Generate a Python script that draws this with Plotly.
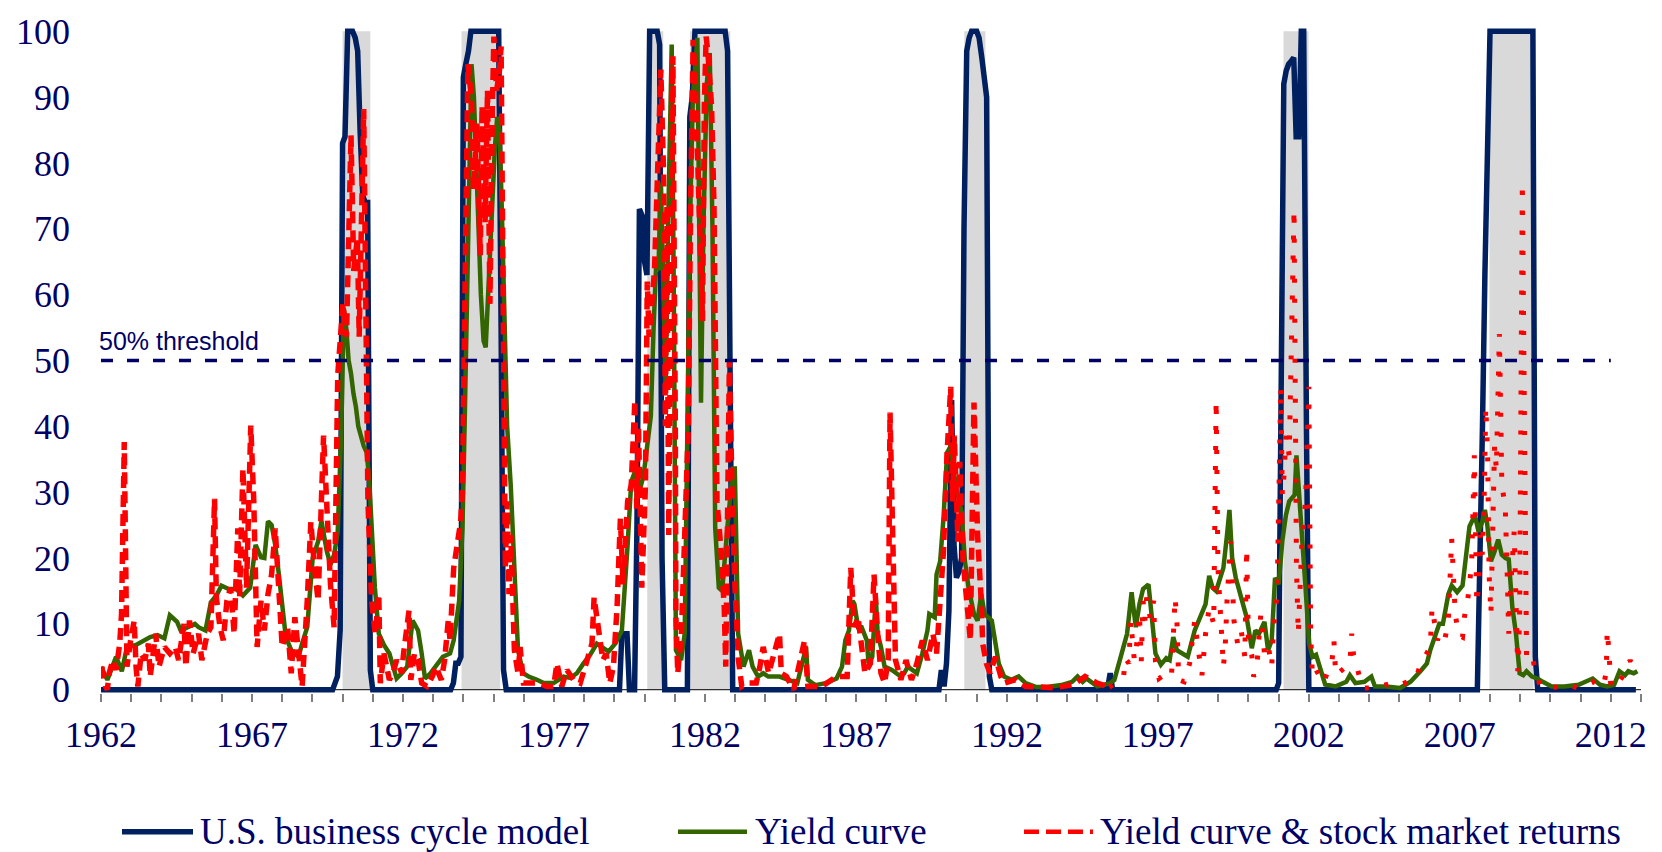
import plotly.graph_objects as go

# ---------------- data ----------------
SERIES_NAMES = ["U.S. business cycle model", "Yield curve", "Yield curve & stock market returns"]
X_LABEL_YEARS = [1962, 1967, 1972, 1977, 1982, 1987, 1992, 1997, 2002, 2007, 2012]
Y_TICKS = [0, 10, 20, 30, 40, 50, 60, 70, 80, 90, 100]
THRESHOLD_VALUE = 50
THRESHOLD_SPAN = [1962.0, 2012.0]
THRESHOLD_LABEL = "50% threshold"

RECESSION_START = [1970.0, 1973.94, 1980.09, 1981.51, 1990.59, 2001.16, 2007.98]
RECESSION_END = [1970.92, 1975.22, 1980.62, 1982.84, 1991.29, 2001.99, 2009.44]

BUSINESS_CYCLE = [
    (1962.0, 0), (1969.67, 0), (1969.75, 1), (1969.83, 2), (1969.92, 9), (1970.0, 83), (1970.08, 84),
    (1970.17, 100), (1970.25, 100), (1970.33, 100), (1970.42, 99), (1970.5, 97), (1970.58, 85),
    (1970.67, 75), (1970.75, 74), (1970.83, 74), (1970.92, 3), (1971.0, 0),
    (1973.58, 0), (1973.67, 1), (1973.75, 4), (1973.83, 4), (1973.92, 5), (1974.0, 93), (1974.08, 95),
    (1974.17, 97), (1974.25, 100), (1975.17, 100), (1975.25, 55), (1975.33, 3), (1975.42, 0),
    (1979.17, 0), (1979.25, 8.5), (1979.42, 8.5), (1979.5, 0), (1979.67, 0), (1979.75, 25),
    (1979.83, 73), (1979.92, 72), (1980.0, 65), (1980.08, 63), (1980.17, 100), (1980.42, 100),
    (1980.5, 98), (1980.58, 20), (1980.67, 0),
    (1981.42, 0), (1981.5, 87), (1981.58, 90), (1981.67, 100), (1982.67, 100), (1982.75, 97),
    (1982.83, 50), (1982.92, 0),
    (1989.75, 0), (1989.83, 3), (1989.92, 0.5), (1990.0, 4), (1990.08, 12), (1990.17, 44),
    (1990.25, 22), (1990.33, 17), (1990.42, 18), (1990.5, 20), (1990.58, 70), (1990.67, 97),
    (1990.75, 99), (1990.83, 100), (1991.0, 100), (1991.08, 99), (1991.17, 96), (1991.25, 93),
    (1991.33, 90), (1991.42, 2), (1991.5, 0),
    (1995.33, 0), (1995.42, 2.5), (1995.5, 0),
    (2000.92, 0), (2001.0, 1), (2001.08, 40), (2001.17, 92), (2001.25, 94), (2001.33, 95),
    (2001.42, 95.5), (2001.5, 96), (2001.58, 84), (2001.67, 84), (2001.75, 100), (2001.83, 100),
    (2001.92, 40), (2002.0, 0),
    (2007.58, 0), (2007.67, 18), (2007.75, 40), (2007.83, 63), (2007.92, 87), (2008.0, 100),
    (2009.42, 100), (2009.5, 5), (2009.58, 0),
    (2012.83, 0),
]

YIELD_CURVE = [
    (1962.0, 3.5), (1962.21, 1.5), (1962.5, 5), (1962.69, 2.8), (1962.86, 6.5), (1963.16, 6.8),
    (1963.63, 8.0), (1963.87, 8.3), (1964.1, 7.8), (1964.28, 11.3), (1964.52, 10.3), (1964.64, 9.0),
    (1965.11, 10.0), (1965.23, 9.5), (1965.46, 9.0), (1965.64, 13.3), (1965.82, 14.3), (1965.99, 15.8),
    (1966.23, 15.3), (1966.47, 15.3), (1966.7, 14.3), (1966.94, 15.5), (1967.12, 22), (1967.3, 20.1),
    (1967.41, 20), (1967.53, 25.6), (1967.65, 25), (1967.77, 22), (1967.89, 17.5), (1968.0, 12.5),
    (1968.12, 8), (1968.3, 6), (1968.54, 5), (1968.66, 7), (1968.83, 9.5), (1969.01, 20),
    (1969.19, 22.5), (1969.3, 25.6), (1969.48, 21), (1969.6, 19), (1969.72, 20.5), (1969.84, 24),
    (1969.96, 39.6), (1970.04, 58), (1970.12, 55), (1970.2, 50), (1970.28, 48), (1970.36, 45),
    (1970.44, 43), (1970.52, 40), (1970.6, 38.6), (1970.7, 37), (1970.8, 36), (1970.88, 32),
    (1970.95, 26), (1971.07, 15.5), (1971.2, 8.5), (1971.37, 6.8), (1971.55, 5.5), (1971.67, 3.5),
    (1971.79, 1.7), (1971.96, 2.5), (1972.14, 3.5), (1972.32, 10.5), (1972.5, 9), (1972.62, 5.5),
    (1972.73, 1.7), (1972.91, 2.5), (1973.09, 3.5), (1973.32, 5), (1973.56, 5.5), (1973.68, 7.5),
    (1973.86, 13.5), (1973.97, 24.5), (1974.05, 42), (1974.12, 62), (1974.2, 85), (1974.27, 95),
    (1974.35, 90), (1974.42, 80), (1974.5, 70), (1974.58, 60), (1974.67, 53), (1974.74, 52),
    (1974.8, 58), (1974.88, 66), (1974.96, 75), (1975.04, 82), (1975.12, 87), (1975.2, 85),
    (1975.28, 72), (1975.36, 55), (1975.45, 40), (1975.57, 31), (1975.69, 18.5), (1975.81, 6),
    (1975.98, 2.5), (1976.16, 2), (1976.44, 1.5), (1976.66, 1.0), (1976.99, 1.0), (1977.32, 2.0),
    (1977.54, 1.8), (1977.76, 2.5), (1977.98, 4.0), (1978.2, 5.3), (1978.42, 7.0), (1978.59, 6.5),
    (1978.81, 5.8), (1979.03, 7.0), (1979.25, 9), (1979.44, 22), (1979.56, 31.6), (1979.68, 33.1),
    (1979.86, 30.6), (1979.97, 32.6), (1980.09, 36.6), (1980.21, 41.6), (1980.3, 55), (1980.38, 64),
    (1980.46, 63.7), (1980.54, 77), (1980.62, 62), (1980.7, 46), (1980.8, 75), (1980.9, 98),
    (1980.97, 60), (1981.04, 6), (1981.21, 4.5), (1981.33, 8.5), (1981.42, 40), (1981.5, 70),
    (1981.6, 90), (1981.75, 99), (1981.87, 43.6), (1981.95, 70), (1982.06, 92), (1982.16, 96.7),
    (1982.25, 70), (1982.34, 24.6), (1982.46, 15.5), (1982.57, 15), (1982.75, 25), (1982.93, 33.6),
    (1982.99, 33.6), (1983.1, 8.5), (1983.28, 3.5), (1983.46, 6), (1983.58, 3.5), (1983.76, 2),
    (1983.93, 2.5), (1984.1, 2), (1984.47, 2), (1984.82, 1.5), (1985.06, 1), (1985.3, 5.5),
    (1985.35, 6.5), (1985.41, 1.5), (1985.65, 0.7), (1986.0, 1), (1986.36, 1.7), (1986.54, 3.5),
    (1986.65, 7.5), (1986.77, 9), (1986.89, 13.5), (1986.95, 13), (1987.07, 9.5), (1987.19, 9.5),
    (1987.36, 7.5), (1987.42, 4), (1987.54, 5), (1987.66, 14), (1987.72, 8.5), (1987.83, 6.5),
    (1987.95, 3.5), (1988.19, 3), (1988.43, 2.2), (1988.6, 2.5), (1988.72, 3.5), (1989.02, 2.5),
    (1989.2, 5.5), (1989.37, 9), (1989.43, 11.5), (1989.61, 11), (1989.67, 17.5), (1989.79, 19.5),
    (1989.9, 26), (1990.02, 36), (1990.14, 37), (1990.2, 34.6), (1990.32, 30.6), (1990.5, 27),
    (1990.61, 19.5), (1990.73, 15.5), (1990.91, 11.5), (1991.03, 10.5), (1991.15, 14.5),
    (1991.26, 11.5), (1991.5, 10.5), (1991.73, 4), (1991.91, 2), (1992.15, 1.5), (1992.39, 2),
    (1992.62, 1), (1992.98, 0.4), (1993.33, 0.4), (1993.8, 0.7), (1994.16, 1.2), (1994.34, 2),
    (1994.51, 1.2), (1994.63, 1.7), (1994.99, 0.5), (1995.42, 1), (1995.56, 1.5), (1995.8, 5.5),
    (1995.98, 8.5), (1996.13, 14.8), (1996.21, 11.5), (1996.27, 9.5), (1996.39, 13), (1996.51, 15.3),
    (1996.69, 16), (1996.8, 11.5), (1996.92, 5.5), (1997.1, 3.8), (1997.28, 4.8), (1997.39, 4.5),
    (1997.51, 8), (1997.63, 6), (1997.81, 5.5), (1997.99, 5), (1998.22, 9), (1998.4, 11),
    (1998.58, 13), (1998.7, 17.3), (1998.81, 15.5), (1998.93, 15), (1999.05, 16.5), (1999.17, 18.5),
    (1999.29, 23.5), (1999.37, 27.3), (1999.46, 20), (1999.58, 17), (1999.76, 14), (1999.94, 11),
    (2000.11, 6.3), (2000.23, 9), (2000.35, 8.5), (2000.53, 10.3), (2000.65, 6), (2000.77, 7.5),
    (2000.88, 17), (2001.0, 16), (2001.12, 22.5), (2001.24, 26.5), (2001.35, 28.6), (2001.53, 29.6),
    (2001.59, 35.6), (2001.65, 31.1), (2001.77, 22.5), (2001.89, 15.5), (2002.01, 7), (2002.12, 5),
    (2002.24, 5.3), (2002.36, 3.5), (2002.54, 0.8), (2002.89, 0.5), (2003.24, 1.2), (2003.36, 2.2),
    (2003.54, 1), (2003.84, 1.2), (2004.07, 2), (2004.19, 0.5), (2004.55, 0.5), (2005.02, 0.25),
    (2005.37, 1.2), (2005.73, 3), (2005.91, 4), (2006.02, 6), (2006.14, 7.5), (2006.32, 10),
    (2006.44, 10), (2006.62, 14.5), (2006.73, 15.8), (2006.91, 14.8), (2007.09, 15.8), (2007.21, 20.5),
    (2007.32, 24.8), (2007.5, 26.5), (2007.62, 24), (2007.74, 25.5), (2007.83, 27.3), (2007.91, 25),
    (2008.03, 19.5), (2008.15, 21), (2008.27, 22.8), (2008.39, 20.5), (2008.51, 20), (2008.62, 19.8),
    (2008.74, 12.5), (2008.86, 8.5), (2008.98, 2.5), (2009.1, 2.2), (2009.21, 2.8), (2009.39, 2),
    (2009.57, 1.7), (2009.75, 1.2), (2010.04, 0.5), (2010.46, 0.5), (2010.93, 0.75), (2011.4, 1.7),
    (2011.64, 0.75), (2011.88, 0.5), (2012.11, 0.75), (2012.29, 2.8), (2012.47, 2.2), (2012.58, 2.8),
    (2012.76, 2.5), (2012.88, 2.8),
]

YIELD_AND_STOCKS = [
    (1962.03, 3.5), (1962.09, 1), (1962.21, 0), (1962.27, 2.5), (1962.39, 4.5), (1962.5, 3),
    (1962.62, 7), (1962.68, 11.5), (1962.77, 37.6), (1962.82, 18.5), (1962.86, 3.5), (1962.98, 7.5),
    (1963.1, 10.5), (1963.16, 3.5), (1963.22, 0.5), (1963.33, 5.5), (1963.45, 4.5), (1963.57, 7),
    (1963.63, 2), (1963.81, 8.5), (1963.92, 3.5), (1964.1, 6.5), (1964.28, 5.5), (1964.46, 6.5),
    (1964.57, 4.5), (1964.75, 10), (1964.81, 3.5), (1964.93, 10.5), (1965.05, 5.5), (1965.23, 8.5),
    (1965.34, 4.5), (1965.52, 8.5), (1965.64, 9.5), (1965.76, 29), (1965.82, 14), (1965.94, 9.5),
    (1966.05, 7.5), (1966.17, 13.5), (1966.29, 15.5), (1966.41, 8.5), (1966.53, 24.5), (1966.59, 14),
    (1966.7, 33.6), (1966.82, 15.5), (1966.96, 40.1), (1967.06, 28.6), (1967.17, 6.5), (1967.3, 13.5),
    (1967.41, 9), (1967.53, 14.5), (1967.65, 17.5), (1967.77, 24.5), (1967.89, 15.5), (1968.0, 6.5),
    (1968.18, 9.5), (1968.3, 2.5), (1968.42, 11), (1968.54, 5), (1968.66, 0.5), (1968.83, 13.5),
    (1968.95, 25.5), (1969.07, 18.5), (1969.19, 13.5), (1969.37, 38.6), (1969.48, 25.5), (1969.6, 16),
    (1969.72, 9.5), (1969.78, 38.6), (1969.84, 47.8), (1970.01, 58.6), (1970.13, 53.6), (1970.28, 84.2),
    (1970.37, 63.6), (1970.49, 68.6), (1970.55, 53.6), (1970.7, 88.2), (1970.78, 43.6), (1970.84, 28.6),
    (1970.96, 13.5), (1971.08, 8.5), (1971.2, 14.5), (1971.25, 1), (1971.37, 5.5), (1971.55, 1.5),
    (1971.67, 2.5), (1971.79, 4.5), (1971.96, 2.5), (1972.02, 5.5), (1972.2, 12), (1972.26, 1.5),
    (1972.38, 5.5), (1972.5, 4.5), (1972.62, 1), (1972.79, 0.5), (1972.97, 2), (1973.09, 3.5),
    (1973.27, 1.5), (1973.38, 4.5), (1973.5, 10.5), (1973.56, 7.5), (1973.68, 18.5), (1973.8, 22.5),
    (1973.91, 25.5), (1973.97, 30.6), (1974.05, 60), (1974.15, 95), (1974.27, 89.7), (1974.33, 76),
    (1974.45, 86), (1974.56, 66), (1974.62, 88.7), (1974.72, 71), (1974.8, 91), (1974.88, 58.6),
    (1974.96, 87.7), (1975.01, 99.2), (1975.1, 91), (1975.19, 93.7), (1975.25, 97.7), (1975.34, 43.6),
    (1975.39, 18.5), (1975.45, 28.6), (1975.51, 14.5), (1975.57, 23.5), (1975.69, 6), (1975.81, 2.5),
    (1975.88, 6.5), (1975.99, 1), (1976.16, 1), (1976.51, 1), (1976.77, 0.5), (1976.99, 0.5),
    (1977.1, 4), (1977.26, 0.5), (1977.43, 3), (1977.65, 1.5), (1977.87, 1), (1978.09, 4.5),
    (1978.26, 7), (1978.33, 14), (1978.5, 7.5), (1978.62, 4.5), (1978.73, 5.5), (1978.85, 1),
    (1978.97, 3.5), (1979.09, 12.5), (1979.2, 26), (1979.29, 16), (1979.44, 28.6), (1979.56, 31.1),
    (1979.68, 44), (1979.74, 27.5), (1979.8, 40), (1979.91, 15.5), (1980.03, 31), (1980.09, 62),
    (1980.15, 53.6), (1980.33, 63.7), (1980.54, 94.2), (1980.63, 78.7), (1980.69, 40), (1980.74, 73.6),
    (1980.8, 23.5), (1980.87, 60), (1980.94, 96.2), (1981.02, 40), (1981.04, 11), (1981.1, 2.5),
    (1981.22, 8.5), (1981.33, 23.5), (1981.45, 40), (1981.53, 75), (1981.61, 98.7), (1981.69, 91),
    (1981.81, 68.6), (1981.92, 56), (1981.98, 88.7), (1982.04, 99.2), (1982.1, 96.7), (1982.22, 88.7),
    (1982.3, 73.6), (1982.36, 40), (1982.4, 28.6), (1982.52, 22), (1982.64, 12.5), (1982.69, 3.5),
    (1982.75, 31), (1982.81, 50), (1982.9, 30), (1982.99, 16), (1983.11, 4.5), (1983.22, 0.5),
    (1983.4, 1), (1983.7, 1), (1983.82, 3.5), (1983.93, 6.5), (1984.11, 2.5), (1984.47, 8.5),
    (1984.53, 2.5), (1984.7, 2), (1984.94, 0), (1985.3, 7.5), (1985.41, 0.5), (1985.88, 0.5),
    (1986.36, 2), (1986.71, 2), (1986.83, 18.5), (1986.89, 12.5), (1986.95, 9.5), (1987.07, 11),
    (1987.19, 6), (1987.3, 2.5), (1987.48, 4), (1987.6, 17.5), (1987.72, 8.5), (1987.83, 2.5),
    (1987.95, 1), (1988.07, 4.5), (1988.13, 42.1), (1988.25, 11), (1988.31, 4.5), (1988.49, 1.5),
    (1988.66, 4.5), (1988.84, 1.5), (1989.02, 4), (1989.2, 7.5), (1989.37, 4.5), (1989.55, 8.5),
    (1989.67, 5.5), (1989.79, 13.5), (1989.9, 21), (1990.02, 36), (1990.14, 46), (1990.2, 28.6),
    (1990.26, 38.6), (1990.38, 22.5), (1990.44, 34.6), (1990.55, 19.5), (1990.67, 13.5),
    (1990.79, 7.5), (1990.91, 43.6), (1991.03, 23.5), (1991.15, 13.5), (1991.2, 7), (1991.32, 4),
    (1991.44, 2.5), (1991.62, 5), (1991.8, 2), (1991.91, 1), (1992.27, 1.5), (1992.62, 0.5),
    (1992.98, 0.5), (1993.57, 0.3), (1994.2, 0.75), (1994.59, 2), (1994.99, 1), (1995.39, 0.4),
    (1995.86, 1.7), (1995.92, 4.8), (1996.04, 4), (1996.1, 10.5), (1996.16, 7.5), (1996.22, 4.5),
    (1996.27, 5.5), (1996.33, 8.5), (1996.39, 11.5), (1996.45, 4.3), (1996.51, 13.5), (1996.57, 10.5),
    (1996.63, 14), (1996.75, 10.8), (1996.86, 13.5), (1996.92, 4.3), (1997.04, 1.7), (1997.28, 2.5),
    (1997.45, 2), (1997.57, 14), (1997.63, 10.5), (1997.69, 1.5), (1997.87, 1.2), (1998.05, 4),
    (1998.22, 10.5), (1998.34, 6), (1998.46, 2.2), (1998.58, 8.5), (1998.7, 12.5), (1998.85, 10),
    (1998.93, 44), (1998.99, 18.5), (1999.11, 9.5), (1999.17, 3.5), (1999.23, 6.5), (1999.29, 13.5),
    (1999.41, 22.5), (1999.46, 16.5), (1999.52, 10.5), (1999.64, 7), (1999.76, 9), (1999.88, 5),
    (1999.94, 21.5), (2000.0, 7.5), (2000.11, 5.3), (2000.17, 2), (2000.27, 3), (2000.35, 8),
    (2000.41, 11.5), (2000.53, 5.5), (2000.65, 6.8), (2000.77, 3.5), (2000.83, 9.5), (2000.95, 14.5),
    (2001.0, 31.6), (2001.07, 46), (2001.12, 29.6), (2001.18, 32.6), (2001.24, 38.6), (2001.35, 35.6),
    (2001.51, 73), (2001.59, 18.5), (2001.65, 8.5), (2001.77, 22.5), (2001.89, 28.6), (2002.0, 46),
    (2002.06, 8.5), (2002.12, 2), (2002.24, 3), (2002.48, 1), (2002.77, 4.5), (2002.83, 7.5),
    (2002.89, 2.2), (2003.36, 4), (2003.42, 8.5), (2003.48, 5.3), (2003.78, 0.25), (2004.19, 0.25),
    (2004.67, 0.9), (2004.9, 0.5), (2005.55, 1.7), (2005.67, 3.5), (2006.02, 6.5), (2006.08, 12.5),
    (2006.26, 7.5), (2006.32, 8.5), (2006.5, 7.5), (2006.62, 10.5), (2006.73, 23), (2006.79, 17.5),
    (2006.85, 11.3), (2006.97, 8.3), (2007.09, 8), (2007.15, 11), (2007.27, 14), (2007.39, 19),
    (2007.44, 28.6), (2007.48, 35.6), (2007.56, 13), (2007.62, 16), (2007.68, 23.5), (2007.74, 20.5),
    (2007.8, 27.5), (2007.86, 43), (2007.92, 36), (2007.97, 17.5), (2008.03, 11.5), (2008.09, 21),
    (2008.15, 37), (2008.21, 33.6), (2008.31, 54), (2008.39, 31.6), (2008.45, 28.6), (2008.51, 27),
    (2008.57, 17.5), (2008.62, 8.5), (2008.68, 15.5), (2008.8, 24), (2008.92, 2.8), (2008.98, 11),
    (2009.07, 77), (2009.21, 5), (2009.39, 5.5), (2009.51, 2.5), (2009.69, 0.3), (2010.28, 0.4),
    (2010.57, 0.75), (2010.93, 0.25), (2011.4, 1.2), (2011.76, 0.5), (2011.85, 2.8), (2011.88, 9),
    (2011.94, 5.8), (2012.0, 0.5), (2012.11, 0.25), (2012.47, 2.5), (2012.64, 4.5), (2012.7, 3.5),
    (2012.76, 3),
]

# ---------------- styling ----------------
NAVY = "#002060"
GREEN = "#336600"
RED = "#FF0000"
TEXT = "#000066"
BAND = "#D9D9D9"
SERIF = "Liberation Serif, Times New Roman, serif"
SANS = "Liberation Sans, Arial, sans-serif"
RED_STYLE_SWITCH = 1995.39  # the red series is drawn with a finer dot pattern from here on

W, H = 1662, 852
ML, MR, MT, MB = 101, 21, 22, 159


def xs(pairs):
    return [p[0] for p in pairs]


def ys(pairs):
    return [p[1] for p in pairs]


fig = go.Figure()

fig.add_trace(go.Scatter(x=xs(BUSINESS_CYCLE), y=ys(BUSINESS_CYCLE), mode="lines",
                         name=SERIES_NAMES[0], line=dict(color=NAVY, width=5.5), showlegend=False))
fig.add_trace(go.Scatter(x=xs(YIELD_CURVE), y=ys(YIELD_CURVE), mode="lines",
                         name=SERIES_NAMES[1], line=dict(color=GREEN, width=4.5), showlegend=False))
early = [p for p in YIELD_AND_STOCKS if p[0] <= RED_STYLE_SWITCH]
late = [p for p in YIELD_AND_STOCKS if p[0] >= RED_STYLE_SWITCH]
fig.add_trace(go.Scatter(x=xs(early), y=ys(early), mode="lines", name=SERIES_NAMES[2],
                         legendgroup="ys", line=dict(color=RED, width=5.5, dash="12px,7px"),
                         showlegend=False))
fig.add_trace(go.Scatter(x=xs(late), y=ys(late), mode="lines", name=SERIES_NAMES[2],
                         legendgroup="ys", line=dict(color=RED, width=5, dash="4px,16px"),
                         showlegend=False))
fig.add_trace(go.Scatter(x=THRESHOLD_SPAN, y=[THRESHOLD_VALUE, THRESHOLD_VALUE], mode="lines",
                         name=THRESHOLD_LABEL, line=dict(color=TEXT, width=3.5, dash="12px,14px"),
                         showlegend=False))

shapes = []
for s, e in zip(RECESSION_START, RECESSION_END):
    shapes.append(dict(type="rect", xref="x", yref="y", x0=s, x1=e, y0=0, y1=100,
                       fillcolor=BAND, line=dict(width=0), layer="below"))
shapes.append(dict(type="line", xref="x", yref="y", x0=1962, x1=2013, y0=0, y1=0,
                   line=dict(color="black", width=1), layer="below"))

# custom legend (long line samples as in the reference)
pw = W - ML - MR
ph = H - MT - MB


def px_to_paper_x(px):
    return (px - ML) / pw


def px_to_paper_y(py):
    return (H - MB - py) / ph


leg_y = px_to_paper_y(833)
legend_items = [
    (SERIES_NAMES[0], NAVY, 5.5, "solid", 122, 193, 198),
    (SERIES_NAMES[1], GREEN, 4.5, "solid", 678, 747, 753),
    (SERIES_NAMES[2], RED, 4.5, "15px,7px", 1024, 1093, 1098),
]
annotations = []
for name, col, wdt, dash, a, b, tx in legend_items:
    shapes.append(dict(type="line", xref="paper", yref="paper", x0=px_to_paper_x(a),
                       x1=px_to_paper_x(b), y0=leg_y, y1=leg_y,
                       line=dict(color=col, width=wdt, dash=dash)))
    annotations.append(dict(text=name, xref="paper", yref="paper", x=px_to_paper_x(tx), y=leg_y,
                            xanchor="left", yanchor="middle", showarrow=False,
                            font=dict(family=SERIF, size=37, color=TEXT)))

annotations.append(dict(text=THRESHOLD_LABEL, xref="x", yref="y", x=THRESHOLD_SPAN[0], y=THRESHOLD_VALUE,
                        xanchor="left", yanchor="bottom", yshift=4, xshift=-4, showarrow=False,
                        font=dict(family=SANS, size=25, color=TEXT)))

fig.update_layout(
    width=W, height=H,
    margin=dict(l=ML, r=MR, t=MT, b=MB),
    paper_bgcolor="white", plot_bgcolor="white",
    showlegend=False,
    shapes=shapes, annotations=annotations,
    xaxis=dict(range=[1962, 2013], tickmode="array", tickvals=X_LABEL_YEARS,
               ticktext=[str(v) for v in X_LABEL_YEARS], ticks="outside", ticklen=8,
               tickcolor="#808080", tickwidth=1.5, showgrid=False, zeroline=False, showline=False,
               tickfont=dict(family=SERIF, size=36, color=TEXT), ticklabelstandoff=2,
               minor=dict(tickmode="linear", tick0=1962, dtick=1, ticks="outside", ticklen=8,
                          tickcolor="#808080", tickwidth=1.5, showgrid=False)),
    yaxis=dict(range=[-0.5, 100.5], tickmode="array", tickvals=Y_TICKS, ticks="",
               showgrid=False, zeroline=False, showline=False,
               tickfont=dict(family=SERIF, size=36, color=TEXT), ticklabelstandoff=30),
)

fig.write_html("out.html", config={"displayModeBar": False},
               post_script="document.body.style.margin='0';document.body.style.overflow='hidden';")
